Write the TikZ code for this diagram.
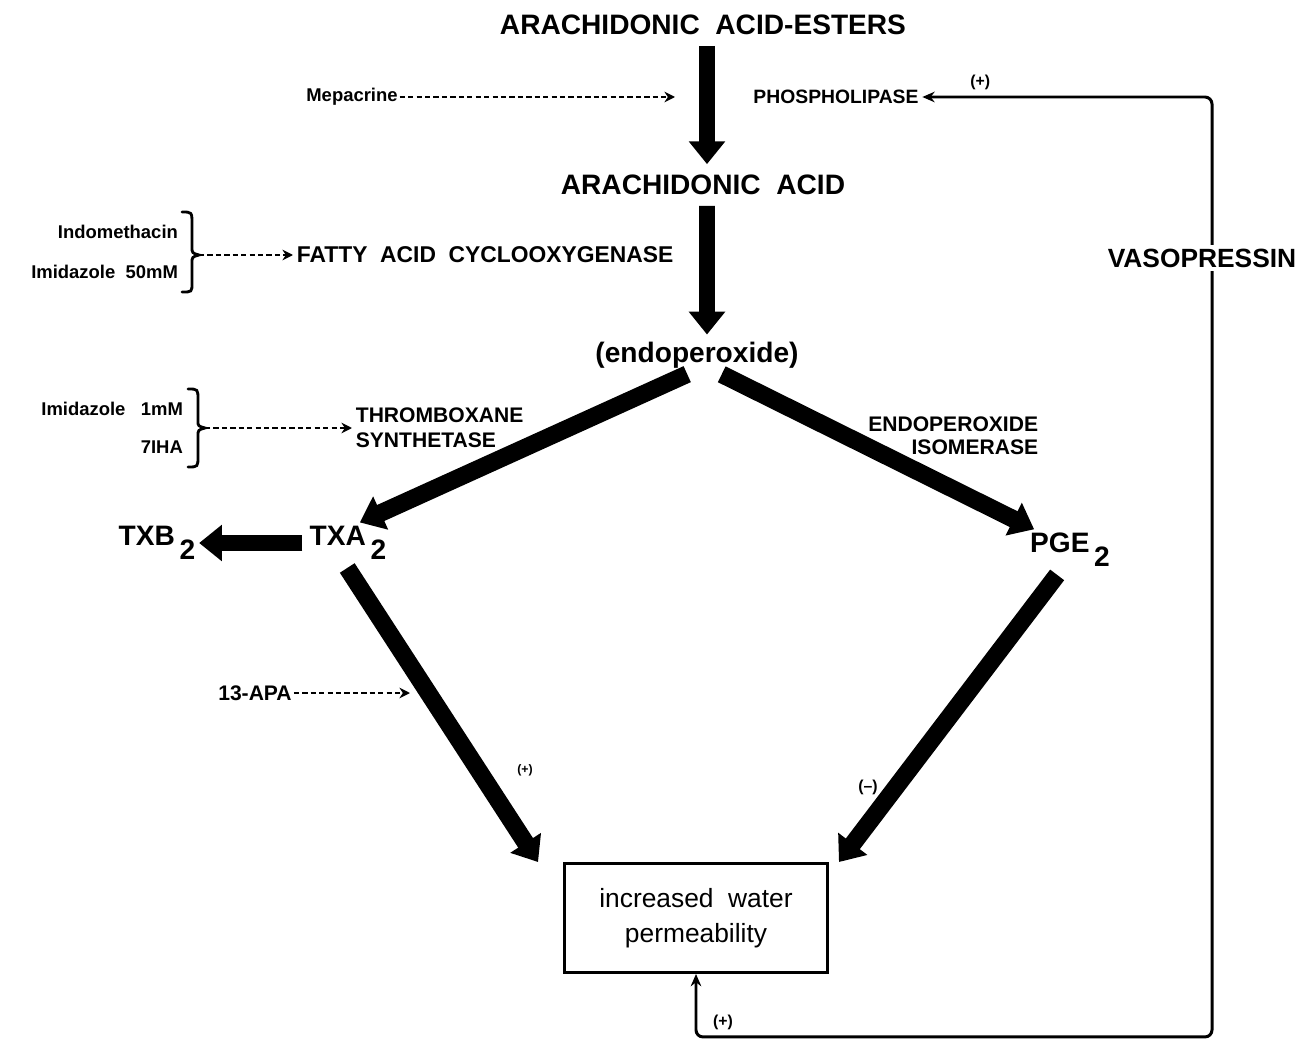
\documentclass[tikz,border=0pt]{standalone}
\usepackage{fontspec}
\setmainfont{Liberation Sans}
\usetikzlibrary{arrows.meta}
\usetikzlibrary{positioning}
\usetikzlibrary{calc}

\newcommand{\subtwo}{\,\raisebox{-0.5em}{2}}
\newcommand{\fs}[1]{\fontsize{#1pt}{#1pt}\selectfont}

\tikzset{
	big/.style={font=\fs{16}\bfseries, inner sep=2pt},
	enzyme/.style={font=\fs{12}\bfseries, inner sep=2pt},
	drug/.style={font=\fs{10.5}\bfseries, inner sep=1pt},
	sign/.style={font=\fs{9}\bfseries, inner sep=1pt},
	flow/.style={line width=9pt, -{Triangle[length=13pt,width=20pt]}},
	inhib/.style={line width=1.7pt, dash pattern=on 3pt off 1.8pt, -{Stealth[length=6pt,width=6pt]}},
	feedback/.style={line width=1.7pt, rounded corners=4pt},
	brack/.style={line width=1.6pt, line cap=round},
}

\begin{document}
\begin{tikzpicture}[x=0.02cm, y=-0.02cm]
	\useasboundingbox (0,0) rectangle (1306,1051);

	% main pathway
	% ------------
	\node[big] (esters) at (703,25) {ARACHIDONIC\ \ ACID-ESTERS};
	\node[big] (aa) at (703,185) {ARACHIDONIC\ \ ACID};
	\node[big] (endo) at (697,355) {(endoperoxide)};
	\node[big] (txa) at (348,543) {TXA\subtwo};
	\node[big] (txb) at (157,543) {TXB\subtwo};
	\node[big] (pge) at (1070,550) {PGE\subtwo};
	\node[draw, line width=1.7pt, minimum width=5.26cm, minimum height=2.18cm,
		  align=center, font=\fs{15}]
		  (box) at (696,918) {increased\ \ water\\[5pt] permeability};

	% enzymes
	\node[enzyme, font=\fs{11}\bfseries] (phos) at (836,97) {PHOSPHOLIPASE};
	\node[enzyme, font=\fs{13}\bfseries, anchor=west] (cox) at (293,255) {FATTY\ \ ACID\ \ CYCLOOXYGENASE};
	\node[enzyme, anchor=west, align=left] (thromb) at (352,428) {THROMBOXANE\\[2pt]SYNTHETASE};
	\node[enzyme, anchor=east, align=right] (isom) at (1042,436) {ENDOPEROXIDE\\[1pt]ISOMERASE};
	\node[big, font=\fs{15}\bfseries] (vaso) at (1202,258) {VASOPRESSIN};

	% inhibitors
	\node[drug] (mepa) at (352,97) {Mepacrine};
	\node[drug, anchor=east, align=right] (indo) at (180,252) {Indomethacin\\[12pt]Imidazole\ \ 50mM};
	\node[drug, anchor=east, align=right] (imid) at (185,428) {Imidazole\ \ \ 1mM\\[11pt]7IHA};
	\node[drug, font=\fs{12}\bfseries] (apa) at (255,693) {13-APA};
	\coordinate (mepaend) at (675,97);
	\coordinate (apaend) at (410,693);
	\coordinate (indotip) at (199,255);
	\coordinate (imidtip) at (205,428);

	% brackets
	\draw[brack] (182,212) .. controls (192,212) .. (192,224) -- (192,247)
		.. controls (192,253) .. (199,255) .. controls (192,257) .. (192,263)
		-- (192,283) .. controls (192,292) .. (182,292);
	\draw[brack] (188,389) .. controls (198,389) .. (198,400) -- (198,421)
		.. controls (198,426) .. (205,428) .. controls (198,430) .. (198,436)
		-- (198,456) .. controls (198,467) .. (188,467);

	% thick arrows
	\draw[flow, shorten <=4pt, shorten >=4pt] ([xshift=.08cm]esters.south) -- ([xshift=.08cm]aa.north);
	\draw[flow, shorten <=4pt, shorten >=2pt] ([xshift=.08cm]aa.south) -- ([xshift=.2cm]endo.north);
	\draw[flow, line width=10pt, shorten <=3pt] ([xshift=-.1cm]endo.south) -- (txa.60);
	\draw[flow, line width=10pt, shorten <=3pt] ([xshift=.4cm]endo.south) -- (pge.150);
	\draw[flow, shorten <=2pt] (txa.west) -- (txb.east);
	\draw[flow, line width=10pt, shorten <=3pt] (txa.-100) -- ([xshift=-.5cm]box.north west);
	\draw[flow, line width=10pt, shorten <=3pt] (pge.-115) -- ([xshift=.2cm]box.north east);

	% inhibitor arrows
	\draw[inhib] (mepa.east) -- (mepaend);
	\draw[inhib] (indotip) -- (cox.west);
	\draw[inhib] (imidtip) -- (thromb.west);
	\draw[inhib] (apa.east) -- (apaend);

	% vasopressin feedback
	\draw[feedback, -{Stealth[length=7pt,width=6pt]}] ([xshift=.2cm]vaso.north) |- (phos.east)
		node[sign, pos=.9, above=2pt] (plusphos) {(+)};
	\draw[feedback, -{Stealth[length=7pt,width=6pt]}] ([xshift=.2cm]vaso.south) |- ([yshift=-1.26cm]box.south) -- (box.south);
	\node[sign] (plusbox) at (723,1022) {(+)};

	% effect signs
	\node[sign, font=\fs{7}\bfseries] (plustxa) at (525,770) {(+)};
	\node[sign] (minuspge) at (868,787) {(--)};

\end{tikzpicture}
\end{document}
